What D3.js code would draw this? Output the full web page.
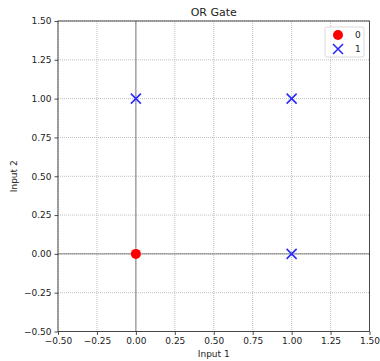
<!DOCTYPE html>
<html><head><meta charset="utf-8">
<script src="https://cdn.jsdelivr.net/npm/d3@7"></script>
<style>body{margin:0;background:#fff}svg{display:block;font-family:"DejaVu Sans",sans-serif}</style>
</head><body><svg id="c" width="380" height="361"></svg>
<script>
const title = "OR Gate";
const xLabel = "Input 1";
const yLabel = "Input 2";
const class0X = [0];
const class0Y = [0];
const class1X = [0, 1, 1];
const class1Y = [1, 0, 1];
const legendLabels = ["0", "1"];
const tickValues = [-0.5, -0.25, 0, 0.25, 0.5, 0.75, 1, 1.25, 1.5];

const svg = d3.select("#c");
const L = 58, R = 369.5, T = 21, B = 331.5;
const x = d3.scaleLinear().domain([-0.5, 1.5]).range([L, R]);
const y = d3.scaleLinear().domain([-0.5, 1.5]).range([B, T]);

// grid
const g = svg.append("g");
g.selectAll(".gx").data(tickValues).join("line")
  .attr("x1", d => x(d)).attr("x2", d => x(d)).attr("y1", T).attr("y2", B)
  .attr("stroke", "#b0b0b0").attr("stroke-width", 0.8).attr("stroke-dasharray", "1,1");
g.selectAll(".gy").data(tickValues).join("line")
  .attr("y1", d => y(d)).attr("y2", d => y(d)).attr("x1", L).attr("x2", R)
  .attr("stroke", "#b0b0b0").attr("stroke-width", 0.8).attr("stroke-dasharray", "1,1");

// zero lines
svg.append("line").attr("x1", x(0)).attr("x2", x(0)).attr("y1", T).attr("y2", B)
  .attr("stroke", "#555").attr("stroke-width", 0.9).attr("opacity", 0.8);
svg.append("line").attr("y1", y(0)).attr("y2", y(0)).attr("x1", L).attr("x2", R)
  .attr("stroke", "#555").attr("stroke-width", 0.9).attr("opacity", 0.8);

// axes
const fmt = d3.format(".2f");
const minusFmt = d => fmt(d).replace("-", "\u2212");
const xa = svg.append("g").attr("transform", `translate(0,${B})`)
  .call(d3.axisBottom(x).tickValues(tickValues).tickFormat(minusFmt).tickSize(3.5).tickPadding(3));
const ya = svg.append("g").attr("transform", `translate(${L},0)`)
  .call(d3.axisLeft(y).tickValues(tickValues).tickFormat(minusFmt).tickSize(3.5).tickPadding(3));
[xa, ya].forEach(a => {
  a.selectAll("text").attr("font-size", 9).attr("fill", "#222").attr("font-family", "DejaVu Sans");
  a.select(".domain").remove();
  a.selectAll(".tick line").attr("stroke", "#222").attr("stroke-width", 0.8);
});
// frame
svg.append("rect").attr("x", L).attr("y", T).attr("width", R - L).attr("height", B - T)
  .attr("fill", "none").attr("stroke", "#222").attr("stroke-width", 0.8);

// points
const pts0 = class0X.map((v, i) => [v, class0Y[i]]);
const pts1 = class1X.map((v, i) => [v, class1Y[i]]);
svg.selectAll(".p0").data(pts0).join("circle")
  .attr("cx", d => x(d[0])).attr("cy", d => y(d[1])).attr("r", 5).attr("fill", "#ff0000");
const xs = 5;
const drawX = (sel, cx, cy) => {
  sel.append("path").attr("d", `M${cx - xs},${cy - xs}L${cx + xs},${cy + xs}M${cx - xs},${cy + xs}L${cx + xs},${cy - xs}`)
    .attr("stroke", "#2a2aff").attr("stroke-width", 1.6).attr("fill", "none");
};
pts1.forEach(d => drawX(svg, x(d[0]), y(d[1])));

// title & labels
svg.append("text").attr("x", (L + R) / 2).attr("y", 16).attr("text-anchor", "middle")
  .attr("font-size", 11).attr("fill", "#222").text(title);
svg.append("text").attr("x", (L + R) / 2).attr("y", 357).attr("text-anchor", "middle")
  .attr("font-size", 9).attr("fill", "#222").text(xLabel);
svg.append("text").attr("transform", `translate(17,${(T + B) / 2}) rotate(-90)`).attr("text-anchor", "middle")
  .attr("font-size", 9).attr("fill", "#222").text(yLabel);

// legend
const lg = svg.append("g");
lg.append("rect").attr("x", 325).attr("y", 27).attr("width", 39).attr("height", 30).attr("rx", 2)
  .attr("fill", "#fff").attr("fill-opacity", 0.8).attr("stroke", "#d0d0d0").attr("stroke-width", 0.8);
lg.append("circle").attr("cx", 338).attr("cy", 35).attr("r", 5).attr("fill", "#ff0000");
drawX(lg, 338, 49);
legendLabels.forEach((t, i) => {
  lg.append("text").attr("x", 355).attr("y", 38 + i * 14).attr("font-size", 9).attr("fill", "#222").text(t);
});
</script></body></html>
